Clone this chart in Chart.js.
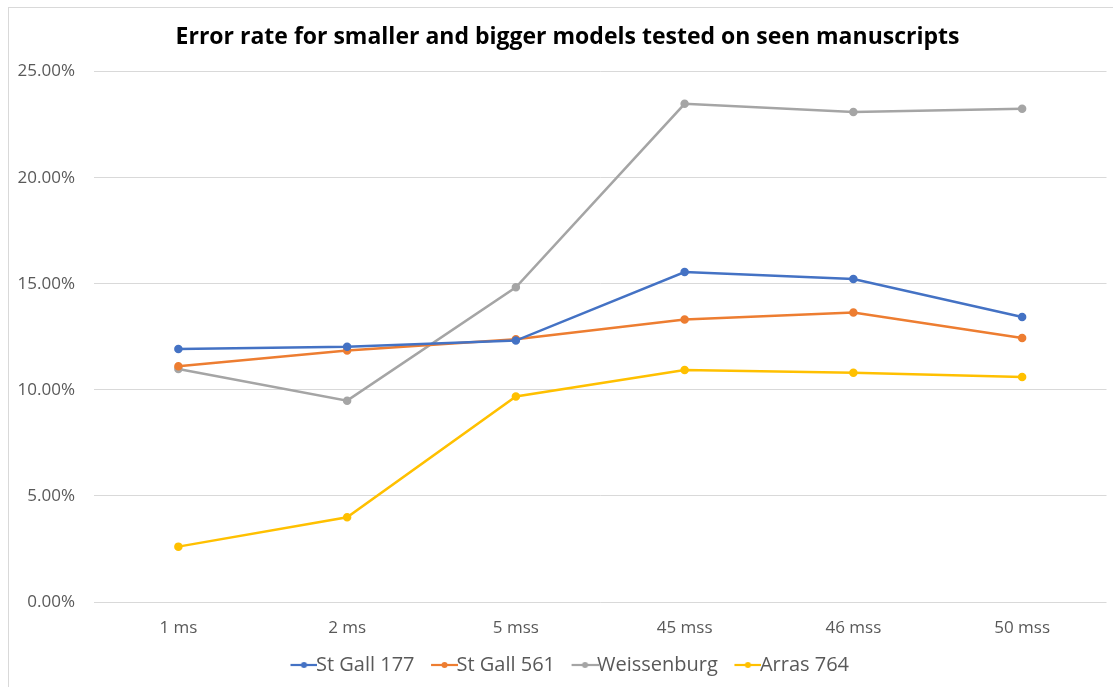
<!DOCTYPE html>
<html>
<head>
<meta charset="utf-8">
<script src="https://cdn.jsdelivr.net/npm/chart.js@4"></script>
<style>
  html, body { margin: 0; padding: 0; background: #fff; }
  #wrap { position: relative; width: 1113px; height: 687px; }
  #frame { position: absolute; left: 8px; top: 7px; right: -2px; bottom: -2px; border: 1px solid #d9d9d9; }
  canvas { position: absolute; left: 0; top: 0; }
</style>
</head>
<body>
<div id="wrap">
  <div id="frame"></div>
  <canvas id="chart" width="1113" height="687"></canvas>
</div>
<script>
const categories = ['1 ms', '2 ms', '5 mss', '45 mss', '46 mss', '50 mss'];
const stGall177 = [11.93, 12.03, 12.32, 15.55, 15.22, 13.43];
const stGall561 = [11.11, 11.85, 12.38, 13.31, 13.64, 12.44];
const weissenburg = [10.98, 9.49, 14.83, 23.48, 23.10, 23.25];
const arras764 = [2.61, 3.99, 9.69, 10.94, 10.81, 10.61];

const textColor = '#595959';
const fontFamily = "'Open Sans', sans-serif";

// legend marker: short line with a dot, with a little blank lead-in on the left
function legendIcon(color) {
    const c = document.createElement('canvas');
    c.width = 43; c.height = 10;
    const ctx = c.getContext('2d');
    ctx.strokeStyle = color;
    ctx.lineWidth = 2.2;
    ctx.beginPath(); ctx.moveTo(16, 5); ctx.lineTo(43, 5); ctx.stroke();
    ctx.fillStyle = color;
    ctx.beginPath(); ctx.arc(29.5, 5, 3, 0, Math.PI * 2); ctx.fill();
    return c;
}

function series(label, data, color) {
    return {
        label, data,
        borderColor: color,
        backgroundColor: color,
        borderWidth: 2.5,
        pointRadius: 3,
        pointHoverRadius: 4,
        tension: 0
    };
}

// title and legend sit a bit right of the canvas centre, over the plot
const shiftBlocks = {
    id: 'shiftBlocks',
    afterLayout(chart) {
        if (chart.titleBlock) chart.titleBlock.left += 24;
        if (chart.legend) chart.legend.left += 24;
    }
};

new Chart(document.getElementById('chart').getContext('2d'), {
    type: 'line',
    data: {
        labels: categories,
        datasets: [
            series('St Gall 177', stGall177, '#4472C4'),
            series('St Gall 561', stGall561, '#ED7D31'),
            series('Weissenburg', weissenburg, '#A5A5A5'),
            series('Arras 764', arras764, '#FFC000')
        ]
    },
    options: {
        responsive: false,
        animation: false,
        layout: { padding: { left: 0, right: 2, top: 24, bottom: 2 } },
        plugins: {
            title: {
                display: true,
                text: 'Error rate for smaller and bigger models tested on seen manuscripts',
                color: '#000',
                font: { family: fontFamily, size: 23, weight: 'bold' },
                padding: { top: 0, bottom: 20 }
            },
            legend: {
                position: 'bottom',
                labels: {
                    color: textColor,
                    font: { family: fontFamily, size: 20 },
                    usePointStyle: true,
                    boxWidth: 43,
                    boxHeight: 10,
                    padding: 12,
                    generateLabels(chart) {
                        return chart.data.datasets.map((ds, i) => ({
                            text: ds.label,
                            fillStyle: ds.borderColor,
                            strokeStyle: ds.borderColor,
                            fontColor: textColor,
                            pointStyle: legendIcon(ds.borderColor),
                            datasetIndex: i,
                            hidden: false,
                            lineWidth: 0
                        }));
                    }
                }
            },
            tooltip: { enabled: false }
        },
        scales: {
            x: {
                offset: true,
                grid: { display: false },
                border: { display: false },
                ticks: { color: textColor, font: { family: fontFamily, size: 17 }, padding: 8 },
                afterFit(scale) { scale.height = 41; }
            },
            y: {
                min: 0,
                max: 25,
                ticks: {
                    stepSize: 5,
                    color: textColor,
                    font: { family: fontFamily, size: 17 },
                    padding: 19,
                    callback: v => v.toFixed(2) + '%'
                },
                grid: { color: '#d9d9d9', lineWidth: 1, drawTicks: false },
                border: { display: false },
                afterFit(scale) { scale.width = 94; }
            }
        }
    },
    plugins: [shiftBlocks]
});
</script>
</body>
</html>
